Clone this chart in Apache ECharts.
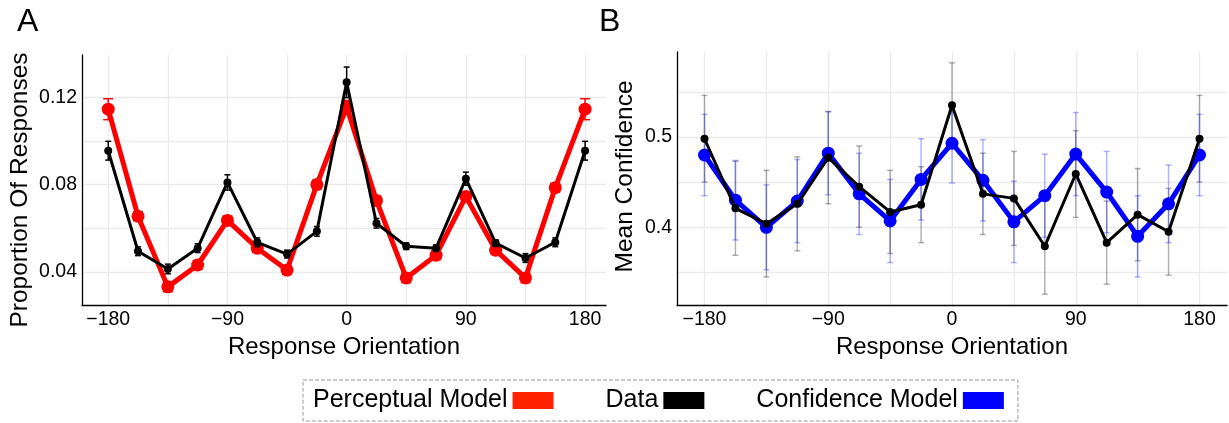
<!DOCTYPE html>
<html>
<head>
<meta charset="utf-8">
<script src="https://cdn.jsdelivr.net/npm/echarts@6/dist/echarts.min.js"></script>
<style>
  html, body { margin: 0; padding: 0; background: #fff; }
  #chart { width: 1229px; height: 423px; }
</style>
</head>
<body>
<div id="chart"></div>
<script>
// response orientations (deg)
const orientations = [-180, -157.5, -135, -112.5, -90, -67.5, -45, -22.5, 0, 22.5, 45, 67.5, 90, 112.5, 135, 157.5, 180];

// panel A: proportion of responses
const perceptualModel = [0.1145, 0.0655, 0.0332, 0.0432, 0.0636, 0.0509, 0.0409, 0.0800, 0.1155, 0.0727, 0.0373, 0.0477, 0.0745, 0.0500, 0.0373, 0.0786, 0.1145];
const perceptualModelErr = [0.0048, 0.002, 0.0022, 0.002, 0.002, 0.002, 0.002, 0.002, 0.003, 0.002, 0.0022, 0.002, 0.002, 0.002, 0.0022, 0.002, 0.0048];
const proportionData = [0.0955, 0.0495, 0.0414, 0.0509, 0.0810, 0.0536, 0.0482, 0.0586, 0.1268, 0.0623, 0.0518, 0.0509, 0.0827, 0.0532, 0.0464, 0.0536, 0.0955];
const proportionDataErr = [0.0043, 0.002, 0.0022, 0.002, 0.0035, 0.002, 0.0018, 0.0022, 0.007, 0.0022, 0.0015, 0.0015, 0.003, 0.0015, 0.002, 0.002, 0.0043];

// panel B: mean confidence
const confidenceModel = [0.480, 0.430, 0.400, 0.429, 0.482, 0.437, 0.407, 0.453, 0.493, 0.452, 0.406, 0.435, 0.481, 0.439, 0.390, 0.426, 0.480];
const confidenceModelErr = [0.045, 0.044, 0.047, 0.046, 0.046, 0.045, 0.046, 0.045, 0.044, 0.045, 0.045, 0.046, 0.046, 0.045, 0.045, 0.043, 0.045];
const confidenceData = [0.498, 0.421, 0.404, 0.426, 0.477, 0.445, 0.417, 0.425, 0.535, 0.437, 0.432, 0.379, 0.459, 0.383, 0.414, 0.395, 0.498];
const confidenceDataErr = [0.048, 0.052, 0.059, 0.052, 0.051, 0.045, 0.046, 0.042, 0.047, 0.045, 0.052, 0.053, 0.048, 0.046, 0.051, 0.048, 0.048];

// axis ticks
const xGridTicks = [-180, -135, -90, -45, 0, 45, 90, 135, 180];
const xLabelTicks = [-180, -90, 0, 90, 180];
const yGridTicksA = [0.04, 0.06, 0.08, 0.10, 0.12];
const yLabelTicksA = [0.04, 0.08, 0.12];
const yGridTicksB = [0.35, 0.40, 0.45, 0.50, 0.55];
const yLabelTicksB = [0.4, 0.5];

const FONT = '"Liberation Sans", Arial, sans-serif';

const pairs = vals => orientations.map((x, i) => [x, vals[i]]);
const bars = (vals, errs) => orientations.map((x, i) => [x, vals[i] - errs[i], vals[i] + errs[i]]);

function errorBars(color, capHalf, width) {
	return function (params, api) {
		const x = api.value(0);
		const lo = api.coord([x, api.value(1)]);
		const hi = api.coord([x, api.value(2)]);
		const style = { stroke: color, lineWidth: width };
		return {
			type: 'group',
			children: [
				{ type: 'line', shape: { x1: lo[0], y1: lo[1], x2: hi[0], y2: hi[1] }, style },
				{ type: 'line', shape: { x1: lo[0] - capHalf, y1: lo[1], x2: lo[0] + capHalf, y2: lo[1] }, style },
				{ type: 'line', shape: { x1: hi[0] - capHalf, y1: hi[1], x2: hi[0] + capHalf, y2: hi[1] }, style }
			]
		};
	};
}

const gridLine = { show: true, lineStyle: { color: '#ebebeb', width: 1.3 } };
const axisLineStyle = { show: true, onZero: false, lineStyle: { color: '#000', width: 1.3 } };
const tickLabel = { color: '#000', fontSize: 19.5, fontFamily: FONT };

function xAxisFor(gridIndex, min, max) {
	return {
		type: 'value',
		gridIndex,
		min,
		max,
		axisLine: axisLineStyle,
		axisTick: { show: false, customValues: xGridTicks },
		axisLabel: {
			...tickLabel,
			margin: 5,
			customValues: xLabelTicks,
			formatter: v => (v < 0 ? '\u2212' + (-v) : String(v))
		},
		splitLine: gridLine,
		name: 'Response Orientation',
		nameLocation: 'middle',
		nameGap: 29,
		nameTextStyle: { color: '#000', fontSize: 24, fontFamily: FONT }
	};
}

function yAxisFor(gridIndex, min, max, gridTicks, labelTicks, name, nameGap, digits, namePad) {
	return {
		type: 'value',
		gridIndex,
		min,
		max,
		axisLine: axisLineStyle,
		axisTick: { show: false, customValues: gridTicks },
		axisLabel: {
			...tickLabel,
			margin: 5,
			customValues: labelTicks,
			formatter: v => v.toFixed(digits)
		},
		splitLine: gridLine,
		name,
		nameLocation: 'middle',
		nameGap,
		nameTextStyle: { color: '#000', fontSize: 24.5, fontFamily: FONT, padding: namePad }
	};
}

const chart = echarts.init(document.getElementById('chart'), null, { renderer: 'canvas' });

chart.setOption({
	animation: false,
	backgroundColor: '#fff',
	grid: [
		{ left: 82, top: 55, width: 524, height: 250 },
		{ left: 677, top: 52, width: 550, height: 253 }
	],
	xAxis: [
		xAxisFor(0, -199.8, 195.8),
		xAxisFor(1, -200, 200)
	],
	yAxis: [
		yAxisFor(0, 0.0249, 0.1393, yGridTicksA, yLabelTicksA, 'Proportion Of Responses', 49, 2, [0, 20, 0, 0]),
		yAxisFor(1, 0.314, 0.594, yGridTicksB, yLabelTicksB, 'Mean Confidence', 39, 1, [0, 0, 0, 4])
	],
	legend: {
		left: 303,
		top: 380,
		orient: 'horizontal',
		align: 'right',
		icon: 'rect',
		itemWidth: 41,
		itemHeight: 17,
		itemGap: 52,
		selectedMode: false,
		padding: [8, 14, 8, 10],
		borderColor: '#999',
		borderWidth: 1,
		borderType: 'dashed',
		textStyle: { color: '#000', fontSize: 25, fontFamily: FONT },
		data: [
			{ name: 'Perceptual Model', itemStyle: { color: '#ff2200' } },
			{ name: 'Data', itemStyle: { color: '#000' } },
			{ name: 'Confidence Model', itemStyle: { color: '#0000ff' } }
		]
	},
	graphic: [
		{ type: 'text', left: 17, top: 6, style: { text: 'A', font: '32px ' + FONT, fill: '#000' } },
		{ type: 'text', left: 599, top: 6, style: { text: 'B', font: '32px ' + FONT, fill: '#000' } }
	],
	series: [
		// panel A
		{
			type: 'custom', name: 'pm-err', xAxisIndex: 0, yAxisIndex: 0,
			renderItem: errorBars('#ff0000', 5, 1.5),
			encode: { x: 0, y: [1, 2] },
			data: bars(perceptualModel, perceptualModelErr), z: 2
		},
		{
			type: 'line', name: 'Perceptual Model', xAxisIndex: 0, yAxisIndex: 0,
			data: pairs(perceptualModel),
			color: '#ff0000',
			lineStyle: { color: '#ff0000', width: 5 },
			symbol: 'circle', symbolSize: 13, showAllSymbol: true,
			itemStyle: { color: '#ff0000' }, z: 3
		},
		{
			type: 'custom', name: 'pd-err', xAxisIndex: 0, yAxisIndex: 0,
			renderItem: errorBars('#000', 3, 1.5),
			encode: { x: 0, y: [1, 2] },
			data: bars(proportionData, proportionDataErr), z: 4
		},
		{
			type: 'line', name: 'Data', xAxisIndex: 0, yAxisIndex: 0,
			data: pairs(proportionData),
			color: '#000',
			lineStyle: { color: '#000', width: 3 },
			symbol: 'circle', symbolSize: 8, showAllSymbol: true,
			itemStyle: { color: '#000' }, z: 5
		},
		// panel B
		{
			type: 'custom', name: 'cd-err', xAxisIndex: 1, yAxisIndex: 1,
			renderItem: errorBars('rgba(0,0,0,0.3)', 3, 1.5),
			encode: { x: 0, y: [1, 2] },
			data: bars(confidenceData, confidenceDataErr), z: 2
		},
		{
			type: 'custom', name: 'cm-err', xAxisIndex: 1, yAxisIndex: 1,
			renderItem: errorBars('rgba(0,0,255,0.3)', 3, 1.5),
			encode: { x: 0, y: [1, 2] },
			data: bars(confidenceModel, confidenceModelErr), z: 2
		},
		{
			type: 'line', name: 'Confidence Model', xAxisIndex: 1, yAxisIndex: 1,
			data: pairs(confidenceModel),
			color: '#0000ff',
			lineStyle: { color: '#0000ff', width: 5 },
			symbol: 'circle', symbolSize: 13, showAllSymbol: true,
			itemStyle: { color: '#0000ff' }, z: 3
		},
		{
			type: 'line', name: 'Data', xAxisIndex: 1, yAxisIndex: 1,
			data: pairs(confidenceData),
			color: '#000',
			lineStyle: { color: '#000', width: 3 },
			symbol: 'circle', symbolSize: 8, showAllSymbol: true,
			itemStyle: { color: '#000' }, z: 5
		}
	]
});

window.addEventListener('resize', () => chart.resize());
</script>
</body>
</html>
